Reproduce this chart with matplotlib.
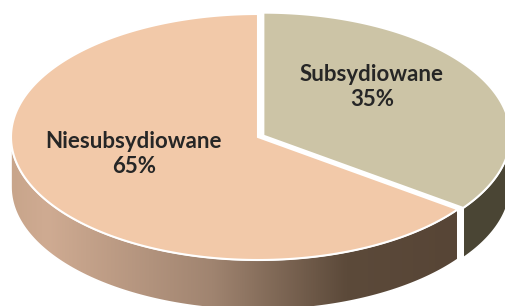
import matplotlib
matplotlib.use("Agg")
import matplotlib.pyplot as plt
import numpy as np
from matplotlib.patches import Polygon
from matplotlib.colors import LinearSegmentedColormap

# --- Datos ---
etiquetas = ['Subsydiowane', 'Niesubsydiowane']
valores = [35, 65]
colores_top = ['#CCC4A6', '#F2C9A9']
colores_lado = ['#4A4534', None]  # el segundo usa degradado

# --- Geometria del pastel 3D (en pixeles) ---
cx, cy = 258.0, 137.0
a, b = 247.0, 123.0
prof = 50.0
explode = 6.0

def punto(th, ox=0.0, oy=0.0, dz=0.0):
    t = np.radians(th)
    return cx + ox + a * np.cos(t), cy + oy - b * np.sin(t) + dz

def arco(t1, t2, ox=0.0, oy=0.0, dz=0.0, n=200):
    ts = np.linspace(t1, t2, n)
    xs, ys = punto(ts, ox, oy, dz)
    return np.column_stack([xs, ys])

fig = plt.figure(figsize=(5.06, 3.06), dpi=100)
ax = fig.add_axes([0, 0, 1, 1])
ax.set_xlim(0, 506)
ax.set_ylim(306, 0)
ax.axis('off')

total = sum(valores)
# Subsydiowane: desde 90 grados en sentido horario
ang_ini = 90.0
ang_fin = ang_ini - 360.0 * valores[0] / total   # -36
medio = (ang_ini + ang_fin) / 2
ox = explode * np.cos(np.radians(medio))
oy = -explode * np.sin(np.radians(medio)) * b / a

# --- Lados ---
# Niesubsydiowane: parte frontal de 180 a ang_fin+360
t1, t2 = 180.0, ang_fin + 360.0
arr = arco(t1, t2)
abj = arco(t2, t1, dz=prof)
lado_nie = Polygon(np.vstack([arr, abj]), closed=True, facecolor='none',
                   edgecolor='white', linewidth=1.2, zorder=3)
ax.add_patch(lado_nie)
cmap = LinearSegmentedColormap.from_list('lado', [
    (0.0, '#C8A58B'), (0.08, '#CFAB92'), (0.45, '#A08470'),
    (0.75, '#5C4A3A'), (1.0, '#574536')])
grad = np.linspace(0, 1, 256).reshape(1, -1)
xmin, xmax = cx - a, cx + a * np.cos(np.radians(ang_fin))
im = ax.imshow(grad, cmap=cmap, extent=(xmin, xmax, 306, 0), aspect='auto', zorder=2)
im.set_clip_path(lado_nie)

# Subsydiowane: parte frontal de ang_fin a 0
arr = arco(ang_fin, 0, ox, oy)
abj = arco(0, ang_fin, ox, oy, dz=prof)
ax.add_patch(Polygon(np.vstack([arr, abj]), closed=True, facecolor=colores_lado[0],
                     edgecolor='white', linewidth=1.2, zorder=3))

# --- Caras superiores ---
pts = np.vstack([[cx, cy], arco(ang_fin + 360.0, 90.0)])
ax.add_patch(Polygon(pts, closed=True, facecolor=colores_top[1],
                     edgecolor='white', linewidth=1.5, zorder=4))
pts = np.vstack([[cx + ox, cy + oy], arco(ang_fin, 90.0, ox, oy)])
ax.add_patch(Polygon(pts, closed=True, facecolor=colores_top[0],
                     edgecolor='white', linewidth=1.5, zorder=4))

ax.set_xlim(0, 506)
ax.set_ylim(306, 0)

# --- Etiquetas ---
fuente = dict(fontsize=16, fontweight='bold', color='#262626', family='Lato',
              ha='center', va='center', linespacing=1.2, zorder=5)
ax.text(372, 87, f'{etiquetas[0]}\n{valores[0]}%', **fuente)
ax.text(134, 154, f'{etiquetas[1]}\n{valores[1]}%', **fuente)

fig.savefig('out.png', dpi=100)
